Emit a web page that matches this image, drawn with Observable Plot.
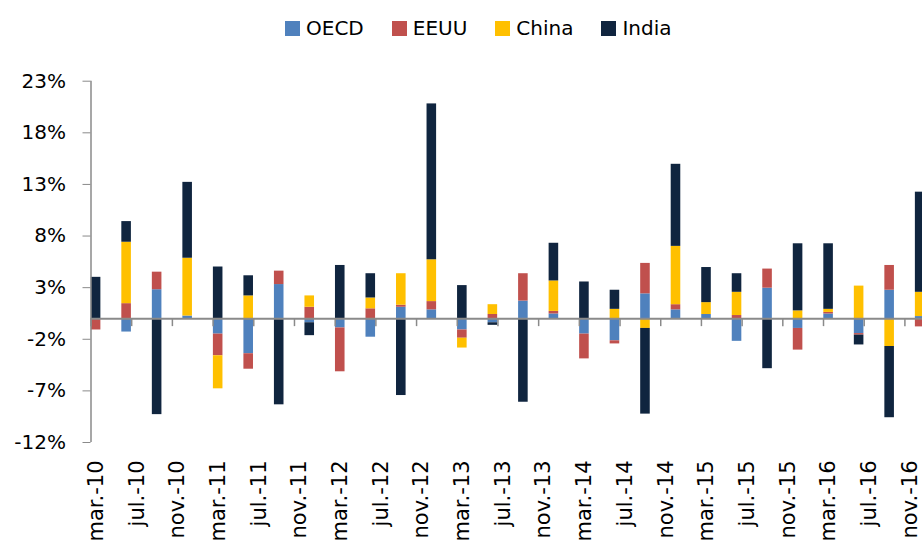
<!DOCTYPE html>
<html><head><meta charset="utf-8">
<script src="https://cdn.jsdelivr.net/npm/d3@7"></script>
<script src="https://cdn.jsdelivr.net/npm/@observablehq/plot@0.6"></script>
<style>
html, body { margin:0; padding:0; background:#fff; overflow:hidden; width:922px; height:543px; }
#legend .leg-swatches { height:50px; box-sizing:border-box; padding-top:6px; padding-left:285px; margin:0 !important; font-family: "DejaVu Sans", sans-serif !important; font-size:20px !important; color:#000; flex-wrap:nowrap; }
#legend .leg-swatch { margin-right:28px !important; }
#legend .leg-swatch > svg { margin-right:6px !important; }
#chart svg { display:block; }
</style></head><body>
<div id="legend"></div><div id="chart"></div>
<script>
const periods = ["2010-03","2010-06","2010-09","2010-12","2011-03","2011-06","2011-09","2011-12",
  "2012-03","2012-06","2012-09","2012-12","2013-03","2013-06","2013-09","2013-12",
  "2014-03","2014-06","2014-09","2014-12","2015-03","2015-06","2015-09","2015-12",
  "2016-03","2016-06","2016-09","2016-12"];
const tickLabels = ["mar.-10","jul.-10","nov.-10","mar.-11","jul.-11","nov.-11","mar.-12","jul.-12",
  "nov.-12","mar.-13","jul.-13","nov.-13","mar.-14","jul.-14","nov.-14","mar.-15","jul.-15",
  "nov.-15","mar.-16","jul.-16","nov.-16"];
const series = ["OECD","EEUU","China","India"];
const colors = ["#4F81BD","#C0504D","#FFC000","#10253F"];
const oecd  = [0, -1.3, 2.8, 0.25, -1.5, -3.4, 3.3, -0.4, -0.9, -1.8, 1.1, 0.85, -1.1, -0.4, 1.7, 0.45, -1.5, -2.15, 2.4, 0.85, 0.4, -2.2, 2.95, -0.95, 0.45, -1.45, 2.75, 0.2];
const eeuu  = [-1.1, 1.45, 1.7, 0, -2.1, -1.5, 1.3, 1.1, -4.25, 0.95, 0.2, 0.8, -0.8, 0.4, 2.65, 0.25, -2.4, -0.3, 2.95, 0.5, 0, 0.3, 1.85, -2.1, 0.15, -0.15, 2.4, -0.8];
const china = [0, 5.95, 0, 5.6, -3.2, 2.2, 0, 1.1, 0, 1.05, 3.05, 4.05, -0.95, 0.95, 0, 2.95, 0, 0.9, -0.95, 5.65, 1.15, 2.25, 0, 0.75, 0.3, 3.15, -2.7, 2.35];
const india = [4.0, 2.0, -9.3, 7.35, 5.0, 1.95, -8.35, -1.25, 5.15, 2.35, -7.45, 15.1, 3.2, -0.25, -8.1, 3.65, 3.55, 1.85, -8.3, 7.95, 3.4, 1.8, -4.85, 6.5, 6.35, -0.95, -6.9, 9.7];
const yTicks = [-12, -7, -2, 3, 8, 13, 18, 23];

const valuesBySeries = [oecd, eeuu, china, india];
const monthIndex = p => { const [y, m] = p.split("-").map(Number); return (y - 2010) * 12 + (m - 3); };
const data = [];
series.forEach((s, k) => periods.forEach((p, i) => data.push({series: s, m: monthIndex(p), value: valuesBySeries[k][i]})));
const tickMonths = tickLabels.map((_, i) => i * 4);
const labelMonths = tickMonths.map(m => m + 0.5);
const axisGray = "#8a8a8a";

const legend = Plot.legend({color: {type: "ordinal", domain: series, range: colors}, swatchSize: 15, className: "leg"});
document.getElementById("legend").append(legend);

const plot = Plot.plot({
  width: 922, height: 493,
  marginLeft: 90.5, marginRight: 0, marginTop: 30.7, marginBottom: 101,
  style: {fontFamily: "'DejaVu Sans', sans-serif", fontSize: "20px", color: "#000", background: "#fff", overflow: "hidden"},
  x: {type: "linear", domain: [0, 81.73], axis: null},
  y: {domain: [yTicks[0], yTicks[yTicks.length - 1]], axis: null},
  color: {domain: series, range: colors},
  marks: [
    Plot.rectY(data, {x: "m", x1: "m", x2: d => d.m + 1, y: "value", fill: "series", insetLeft: 0.3, insetRight: 0.3}),
    Plot.ruleY([0], {stroke: axisGray, strokeWidth: 2}),
    Plot.ruleX(tickMonths, {x: d => d, y1: 0, y2: 0, insetBottom: -8, stroke: axisGray, strokeWidth: 1.5}),
    Plot.ruleX([0], {y1: yTicks[0], y2: yTicks[yTicks.length - 1], stroke: axisGray, strokeWidth: 1.5}),
    Plot.axisY(yTicks, {anchor: "left", label: null, tickSize: 8, tickPadding: 17, tickFormat: d => d + "%", stroke: axisGray, fill: "#000"}),
    Plot.axisX(labelMonths, {anchor: "bottom", label: null, tickSize: 0, tickPadding: 18, tickRotate: -90, fontSize: 21,
      tickFormat: d => tickLabels[Math.round((d - 0.5) / 4)], fill: "#000"})
  ]
});
document.getElementById("chart").append(plot);
</script>
</body></html>
